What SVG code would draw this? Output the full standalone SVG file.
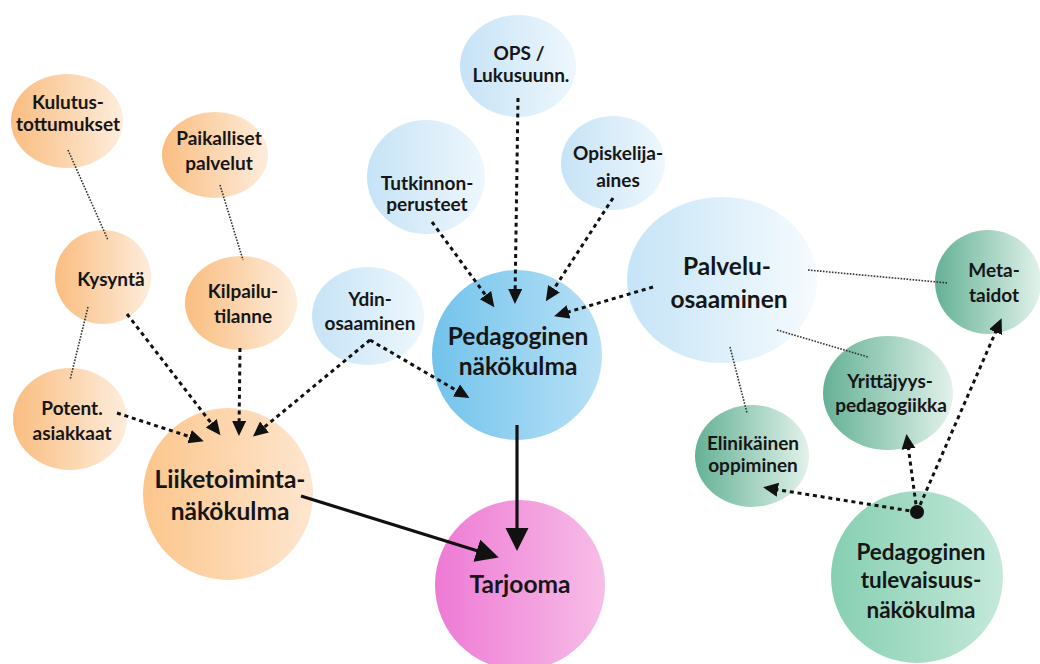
<svg xmlns="http://www.w3.org/2000/svg" width="1040" height="664" viewBox="0 0 1040 664">
<defs>
<linearGradient id="gOr" x1="0" y1="0" x2="1" y2="0"><stop offset="0" stop-color="#fabd80"/><stop offset="1" stop-color="#fdeddc"/></linearGradient>
<linearGradient id="gOrL" x1="0" y1="0" x2="1" y2="0"><stop offset="0" stop-color="#fcc68c"/><stop offset="1" stop-color="#fee6cf"/></linearGradient>
<linearGradient id="gBl" x1="0" y1="0" x2="1" y2="0"><stop offset="0" stop-color="#c6e3f6"/><stop offset="1" stop-color="#eef7fd"/></linearGradient>
<linearGradient id="gBlP" x1="0" y1="0" x2="1" y2="0"><stop offset="0" stop-color="#c5e4f7"/><stop offset="1" stop-color="#f6fbfe"/></linearGradient>
<linearGradient id="gBlD" x1="0" y1="0" x2="1" y2="0"><stop offset="0" stop-color="#72c3ec"/><stop offset="1" stop-color="#b9e1f6"/></linearGradient>
<linearGradient id="gPk" x1="0" y1="0" x2="1" y2="0"><stop offset="0" stop-color="#ee7ad5"/><stop offset="1" stop-color="#f7bde7"/></linearGradient>
<linearGradient id="gGr" x1="0" y1="0" x2="1" y2="0"><stop offset="0" stop-color="#64b195"/><stop offset="1" stop-color="#e2f2eb"/></linearGradient>
<linearGradient id="gGrL" x1="0" y1="0" x2="1" y2="0"><stop offset="0" stop-color="#86cfb2"/><stop offset="1" stop-color="#c4e9da"/></linearGradient>
<marker id="ah" markerUnits="userSpaceOnUse" markerWidth="16" markerHeight="16" refX="11" refY="7" orient="auto"><path d="M0,0 L15,7 L0,14 z" fill="#111"/></marker>
<marker id="ahB" markerUnits="userSpaceOnUse" markerWidth="26" markerHeight="26" refX="18" refY="11.5" orient="auto"><path d="M0,0 L23,11.5 L0,23 z" fill="#111"/></marker>
</defs>
<style>
text{font-family:Lato,"Open Sans","Liberation Sans",sans-serif;font-weight:700;fill:#161616;text-anchor:middle}
.s{font-size:19px}
.l{font-size:24.5px}
.m{font-size:22.5px}
.dot{fill:none;stroke:#333;stroke-width:1.6;stroke-dasharray:1.6 1.4}
.dash{fill:none;stroke:#111;stroke-width:3;stroke-dasharray:4 3.8;marker-end:url(#ah)}
.solid{fill:none;stroke:#111;stroke-width:3.2;marker-end:url(#ahB)}
</style>
<rect width="1040" height="664" fill="#ffffff"/>

<g id="nodes">
<g id="n-kulutus"><ellipse cx="67" cy="121" rx="56" ry="47" fill="url(#gOr)"/><text class="s" x="68" y="109">Kulutus-</text><text class="s" x="68" y="131">tottumukset</text></g>
<g id="n-paikalliset"><ellipse cx="215" cy="155" rx="53" ry="43" fill="url(#gOr)"/><text class="s" x="219" y="145">Paikalliset</text><text class="s" x="219" y="170">palvelut</text></g>
<g id="n-kysynta"><ellipse cx="103" cy="277" rx="48" ry="47" fill="url(#gOr)"/><text class="s" x="111" y="286">Kysyntä</text></g>
<g id="n-kilpailu"><ellipse cx="241" cy="303" rx="56" ry="47" fill="url(#gOr)"/><text class="s" x="243" y="298">Kilpailu-</text><text class="s" x="243" y="323">tilanne</text></g>
<g id="n-potent"><ellipse cx="70" cy="419" rx="57" ry="51" fill="url(#gOr)"/><text class="s" x="72" y="415">Potent.</text><text class="s" x="72" y="440">asiakkaat</text></g>
<g id="n-liiketoiminta"><ellipse cx="228" cy="494" rx="85" ry="86" fill="url(#gOrL)"/><text class="l" x="230" y="488">Liiketoiminta-</text><text class="l" x="230" y="520">näkökulma</text></g>

<g id="n-ops"><ellipse cx="518" cy="66" rx="58" ry="51" fill="url(#gBl)"/><text class="s" x="519" y="60">OPS /</text><text class="s" x="521" y="82">Lukusuunn.</text></g>
<g id="n-tutkinnon"><ellipse cx="426" cy="177" rx="59" ry="57" fill="url(#gBl)"/><text class="s" x="427" y="190">Tutkinnon-</text><text class="s" x="427" y="211">perusteet</text></g>
<g id="n-opiskelija"><ellipse cx="613" cy="163" rx="52" ry="47" fill="url(#gBl)"/><text class="s" x="618" y="160">Opiskelija-</text><text class="s" x="618" y="187">aines</text></g>
<g id="n-ydin"><ellipse cx="368" cy="316" rx="56" ry="49" fill="url(#gBl)"/><text class="s" x="370" y="306">Ydin-</text><text class="s" x="370" y="330">osaaminen</text></g>
<g id="n-pedagoginen"><ellipse cx="517" cy="355" rx="85" ry="85" fill="url(#gBlD)"/><text class="l" x="518" y="345">Pedagoginen</text><text class="l" x="518" y="375">näkökulma</text></g>
<g id="n-palvelu"><ellipse cx="722" cy="280" rx="95" ry="83" fill="url(#gBlP)"/><text class="l" x="727" y="275">Palvelu-</text><text class="l" x="729" y="308">osaaminen</text></g>

<g id="n-tarjooma"><ellipse cx="520" cy="585" rx="85" ry="85" fill="url(#gPk)"/><text class="l" x="520" y="593">Tarjooma</text></g>

<g id="n-meta"><ellipse cx="988" cy="282" rx="53" ry="52" fill="url(#gGr)"/><text class="s" x="994" y="277">Meta-</text><text class="s" x="994" y="302">taidot</text></g>
<g id="n-yrittajyys"><ellipse cx="888" cy="393" rx="65" ry="57" fill="url(#gGr)"/><text class="s" x="890" y="388">Yrittäjyys-</text><text class="s" x="891" y="412">pedagogiikka</text></g>
<g id="n-elinikainen"><ellipse cx="752" cy="456" rx="57" ry="51" fill="url(#gGr)"/><text class="s" x="753" y="450">Elinikäinen</text><text class="s" x="753" y="472">oppiminen</text></g>
<g id="n-tulevaisuus"><ellipse cx="917" cy="577" rx="86" ry="86" fill="url(#gGrL)"/><text class="m" x="921" y="560">Pedagoginen</text><text class="m" x="921" y="588">tulevaisuus-</text><text class="m" x="921" y="618">näkökulma</text></g>
</g>

<g id="connectors">
<line class="dot" x1="68" y1="150" x2="108" y2="240"/>
<line class="dot" x1="220" y1="185" x2="243" y2="260"/>
<line class="dot" x1="88" y1="307" x2="70" y2="380"/>
<line class="dot" x1="808" y1="270" x2="948" y2="283"/>
<line class="dot" x1="777" y1="330" x2="868" y2="357"/>
<line class="dot" x1="730" y1="347" x2="747" y2="413"/>

<line class="dash" x1="127" y1="314" x2="218" y2="432"/>
<line class="dash" x1="240" y1="348" x2="239" y2="432"/>
<line class="dash" x1="117" y1="413" x2="200" y2="440"/>
<path class="dash" d="M370,340 L256,434"/>
<path class="dash" d="M370,340 L466,396"/>
<line class="dash" x1="432" y1="222" x2="492" y2="304"/>
<line class="dash" x1="518" y1="98" x2="515" y2="300"/>
<line class="dash" x1="613" y1="198" x2="548" y2="298"/>
<line class="dash" x1="653" y1="287" x2="558" y2="315"/>
<line class="dash" x1="917" y1="512" x2="767" y2="488"/>
<line class="dash" x1="917" y1="512" x2="907" y2="438"/>
<line class="dash" x1="917" y1="512" x2="1000" y2="322"/>
<circle cx="917" cy="512" r="7" fill="#111"/>

<line class="solid" x1="301" y1="496" x2="494" y2="556"/>
<line class="solid" x1="517" y1="425" x2="517" y2="546"/>
</g>
</svg>
